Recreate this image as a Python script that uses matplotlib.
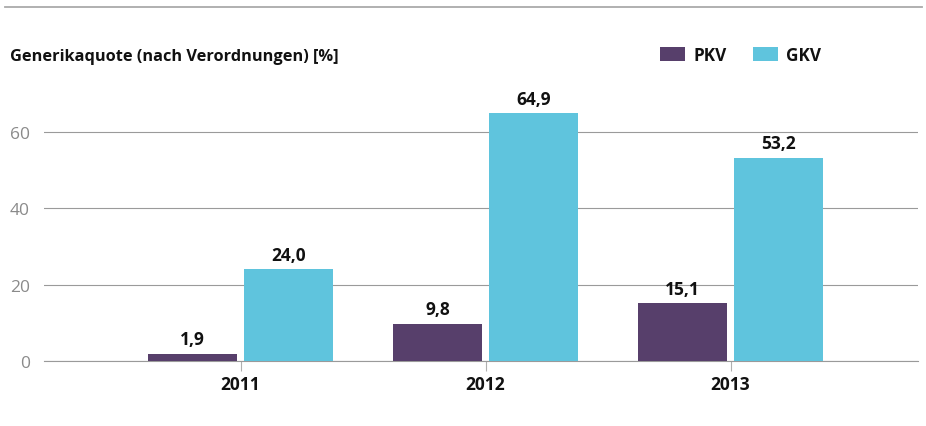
import matplotlib.pyplot as plt
from matplotlib.lines import Line2D
import numpy as np

plt.rcParams['font.family'] = ['Open Sans', 'DejaVu Sans']

years = ["2011", "2012", "2013"]
pkv = [1.9, 9.8, 15.1]
gkv = [24.0, 64.9, 53.2]
series_names = ["PKV", "GKV"]
yticks = [0, 20, 40, 60]

c_pkv = "#573f6b"
c_gkv = "#5fc4dd"
grid_c = "#9a9a9a"


def fmt(v):
    return f"{v:.1f}".replace(".", ",")


def main():
    W, H = 926, 427
    fig = plt.figure(figsize=(W / 100, H / 100), dpi=100)

    # axes placed to match the pixel layout of the reference
    left, right = 44, 918
    y0 = 362
    px_per_unit = 229 / 60
    ymax = 70
    ax = fig.add_axes([left / W, (H - y0) / H, (right - left) / W,
                       ymax * px_per_unit / H])

    x = np.arange(len(years))
    width = 0.363
    gap = 0.029
    off = (width + gap) / 2

    b1 = ax.bar(x - off, pkv, width, color=c_pkv, label=series_names[0], zorder=3)
    b2 = ax.bar(x + off, gkv, width, color=c_gkv, label=series_names[1], zorder=3)

    for bars, vals in ((b1, pkv), (b2, gkv)):
        ax.bar_label(bars, labels=[fmt(v) for v in vals], padding=4,
                     fontsize=12.5, fontweight="bold", color="#111111")

    ax.set_xlim(-0.802, 2.765)
    ax.set_ylim(0, ymax)
    ax.set_yticks(yticks)
    ax.set_xticks(x)
    ax.set_xticklabels(years, fontsize=12.5, fontweight="bold", color="#111111")

    ax.yaxis.grid(True, color=grid_c, linewidth=0.8, zorder=0)
    ax.set_axisbelow(True)
    for s in ("top", "right", "left"):
        ax.spines[s].set_visible(False)
    ax.spines["bottom"].set_color(grid_c)
    ax.spines["bottom"].set_linewidth(0.8)

    ax.tick_params(axis="y", length=0, pad=10, labelsize=12.5, labelcolor="#8a8a8a")
    ax.tick_params(axis="x", length=7, width=0.8, color="#b0b0b0", pad=3)

    # top separator line
    fig.add_artist(Line2D([5 / W, 922 / W], [1 - 8 / H, 1 - 8 / H],
                          color="#aaaaaa", linewidth=1.3))

    fig.text(10 / W, 1 - 57 / H, "Generikaquote (nach Verordnungen) [%]",
             fontsize=11.8, fontweight="bold", va="center", ha="left",
             color="#111111")

    leg = ax.legend(ncol=2, frameon=False, loc="center left",
                    bbox_to_anchor=(660 / W, 1 - 56 / H),
                    bbox_transform=fig.transFigure,
                    borderpad=0, borderaxespad=0,
                    handlelength=1.45, handleheight=0.82,
                    handletextpad=0.5, columnspacing=1.55,
                    prop={"size": 12.3, "weight": "bold"})
    for t in leg.get_texts():
        t.set_color("#111111")

    fig.savefig("out.png", dpi=100)


if __name__ == "__main__":
    main()
